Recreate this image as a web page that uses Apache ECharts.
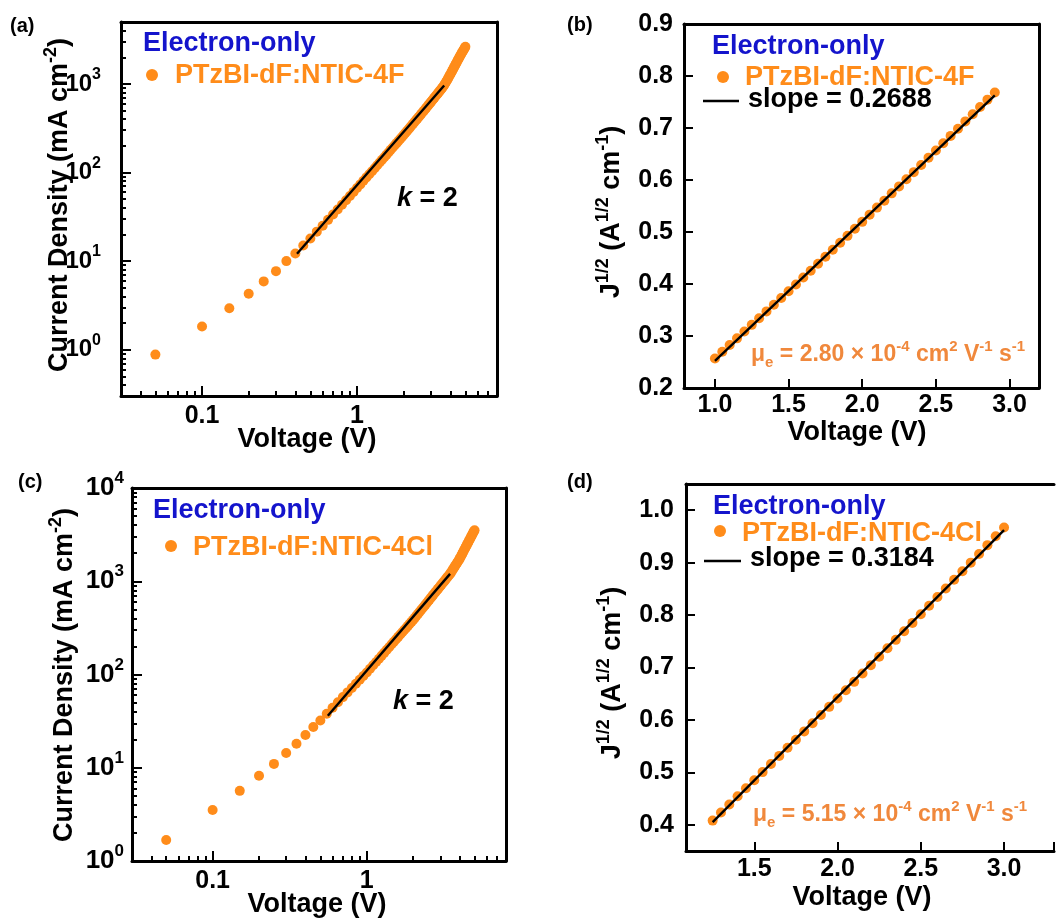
<!DOCTYPE html>
<html>
<head>
<meta charset="utf-8">
<script src="https://cdn.jsdelivr.net/npm/echarts@6/dist/echarts.min.js"></script>
<style>
html,body{margin:0;padding:0;background:#fff;overflow:hidden;}
.p{position:absolute;height:460px;}
</style>
</head>
<body>
<div id="pa" class="p" style="left:0;top:0;width:528px"></div>
<div id="pb" class="p" style="left:528px;top:0;width:529px"></div>
<div id="pc" class="p" style="left:0;top:460px;width:528px"></div>
<div id="pd" class="p" style="left:528px;top:460px;width:529px"></div>
<script>
// ---------- data ----------
const voltLog = [
0.05,0.1,0.15,0.2,0.25,0.3,0.35,0.4,0.45,0.5,
0.55,0.6,0.65,0.7,0.75,0.8,0.85,0.9,0.95,1.0,
1.05,1.1,1.15,1.2,1.25,1.3,1.35,1.4,1.45,1.5,
1.55,1.6,1.65,1.7,1.75,1.8,1.85,1.9,1.95,2.0,
2.05,2.1,2.15,2.2,2.25,2.3,2.35,2.4,2.45,2.5,
2.55,2.6,2.65,2.7,2.75,2.8,2.85,2.9,2.95,3.0,
3.05,3.1,3.15,3.2,3.25,3.3,3.35,3.4,3.45,3.5,
3.55,3.6,3.65,3.7,3.75,3.8,3.85,3.9,3.95,4.0,
4.05,4.1,4.15,4.2,4.25,4.3,4.35,4.4,4.45,4.5,
4.55,4.6,4.65,4.7,4.75,4.8,4.85,4.9,4.95,5.0];

const jA = [
0.88,1.83,2.94,4.28,5.9,7.7,10.0,12.2,15.0,18.0,
21.5,25.1,29.2,33.5,38.3,43.3,48.6,54.2,60.4,67.0,
73.4,80.6,88.1,95.4,103.5,111.9,120.7,129.8,139.3,149.0,
159.1,169.6,180.3,191.4,202.9,214.6,226.7,239.1,251.9,265.0,
279.0,293.4,308.2,323.4,339.0,355.0,371.4,388.2,405.4,423.0,
441.0,459.5,478.3,497.6,517.3,537.9,559.1,580.7,602.8,625.3,
648.4,671.9,695.8,720.3,745.3,770.7,796.7,823.2,850.1,877.6,
905.6,933.1,969.9,1008.9,1050.4,1093.7,1138.9,1186.1,1235.4,1286.1,
1339.1,1393.6,1450.5,1509.0,1568.9,1630.6,1694.0,1759.1,1826.0,1894.7,
1964.0,2033.9,2104.4,2175.3,2246.6,2318.3,2391.5,2466.2,2542.5,2620.3];

const jC = [
1.68,3.53,5.65,8.19,11.0,14.4,18.1,22.4,27.3,32.1,
37.9,44.0,50.4,57.2,64.3,71.8,79.6,87.8,96.2,105.0,
115.1,125.5,136.4,147.8,159.5,171.7,184.3,197.3,210.7,224.5,
238.7,253.3,268.3,283.7,299.6,315.8,332.5,349.6,367.0,385.0,
405.1,425.8,447.0,468.7,490.9,513.7,536.9,560.8,585.2,610.1,
635.5,661.4,688.0,715.1,742.6,770.7,799.3,828.6,858.3,888.6,
919.4,950.8,982.7,1015.2,1048.3,1081.7,1115.9,1150.4,1185.6,1221.5,
1273,1320,1369,1418,1469,1520,1572,1626,1680,1737,
1807,1879,1953,2029,2107,2187,2269,2353,2439,2527,
2617,2711,2806,2903,3002,3104,3208,3314,3424,3530];

const voltB = [1.0,1.05,1.1,1.15,1.2,1.25,1.3,1.35,1.4,1.45,1.5,1.55,1.6,1.65,1.7,1.75,1.8,1.85,1.9,1.95,
2.0,2.05,2.1,2.15,2.2,2.25,2.3,2.35,2.4,2.45,2.5,2.55,2.6,2.65,2.7,2.75,2.8,2.85,2.9];
const sqrtJB = [0.2567,0.2696,0.2826,0.2955,0.3085,0.3214,0.3343,0.3473,0.3602,0.3732,
0.3861,0.3990,0.4125,0.4254,0.4389,0.4523,0.4657,0.4792,0.4926,0.5061,
0.5195,0.5334,0.5469,0.5603,0.5743,0.5877,0.6016,0.6151,0.6290,0.6430,
0.6569,0.6708,0.6848,0.6987,0.7127,0.7266,0.7405,0.7545,0.7684];

const voltD = [1.25,1.3,1.35,1.4,1.45,1.5,1.55,1.6,1.65,1.7,1.75,1.8,1.85,1.9,1.95,2.0,
2.05,2.1,2.15,2.2,2.25,2.3,2.35,2.4,2.45,2.5,2.55,2.6,2.65,2.7,2.75,2.8,2.85,2.9,2.95,3.0];
const sqrtJD = [0.4080,0.4234,0.4388,0.4543,0.4697,0.4851,0.5005,0.5159,0.5314,0.5468,
0.5622,0.5781,0.5935,0.6095,0.6249,0.6408,0.6567,0.6726,0.6886,0.7045,
0.7204,0.7368,0.7527,0.7692,0.7851,0.8015,0.8179,0.8343,0.8508,0.8672,
0.8836,0.9000,0.9164,0.9334,0.9503,0.9672];

// fit lines (end points)
const fitAx = [0.41, 3.65],  fitAy = [12.1, 960];
const fitCx = [0.559, 3.47], fitCy = [36.1, 1200];
const fitBx = [1.0, 2.9],    fitBy = [0.2522, 0.7629];
const fitDx = [1.25, 3.0],   fitDy = [0.405, 0.9622];

// text
const nameF = 'PTzBI-dF:NTIC-4F';
const nameCl = 'PTzBI-dF:NTIC-4Cl';
const slopeB = 'slope = 0.2688';
const slopeD = 'slope = 0.3184';
const muB = '{n|μ}{sub|e}{n| = 2.80 × 10}{sup|-4}{n| cm}{sup|2}{n| V}{sup|-1}{n| s}{sup|-1}';
const muD = '{n|μ}{sub|e}{n| = 5.15 × 10}{sup|-4}{n| cm}{sup|2}{n| V}{sup|-1}{n| s}{sup|-1}';
const yTitleJ = '{n|Current Density (mA cm}{s|-2}{n|)}';
const yTitleS = '{n|J}{s|1/2}{n| (A}{s|1/2}{n| cm}{s|-1}{n|)}';
const xTitle = 'Voltage (V)';

// ---------- styling ----------
const FONT = '"Liberation Sans", Arial, Helvetica, sans-serif';
const ORANGE = '#FF8C1A';
const MU = '#F0883C';
const BLUE = '#1414CC';

function pairs(xs, ys){ return xs.map((x,i)=>[x, ys[i]]); }
function isPow10(v){ const l = Math.log10(v); return Math.abs(l - Math.round(l)) < 1e-6; }
function isMult(v, step){ const q = v/step; return Math.abs(q - Math.round(q)) < 1e-6; }

function logX(){
  return {type:'log', min:0.03, max:8, logBase:10,
    axisLine:{show:true, lineStyle:{color:'#000', width:3}},
    axisTick:{show:true, inside:true, length:10, lineStyle:{color:'#000', width:2}},
    minorTick:{show:true, splitNumber:9, length:5, lineStyle:{color:'#000', width:2}},
    splitLine:{show:false}, minorSplitLine:{show:false},
    axisLabel:{margin:8, color:'#000', fontFamily:FONT, fontWeight:'bold', fontSize:25,
      formatter:function(v){ if(!isPow10(v)) return ''; const n=Math.round(Math.log10(v)); return n===-1?'0.1':(n===0?'1':''); }}};
}
function logY(min, max, fs, sfs, margin){
  return {type:'log', min:min, max:max, logBase:10,
    axisLine:{show:true, lineStyle:{color:'#000', width:3}},
    axisTick:{show:true, inside:true, length:10, lineStyle:{color:'#000', width:2}},
    minorTick:{show:true, splitNumber:9, length:5, lineStyle:{color:'#000', width:2}},
    splitLine:{show:false}, minorSplitLine:{show:false},
    axisLabel:{margin:margin, color:'#000',
      formatter:function(v){ if(!isPow10(v)) return ''; return '{b|10}{s|'+Math.round(Math.log10(v))+'}'; },
      rich:{
        b:{fontFamily:FONT, fontWeight:'bold', fontSize:fs, lineHeight:fs+10, color:'#000'},
        s:{fontFamily:FONT, fontWeight:'bold', fontSize:sfs, verticalAlign:'top', color:'#000'}
      }}};
}
function linA(min, max, step, margin){
  return {type:'value', min:min, max:max,
    axisLine:{show:true, lineStyle:{color:'#000', width:3}},
    axisTick:{show:true, inside:true, length:9, lineStyle:{color:'#000', width:2}},
    splitLine:{show:false},
    axisLabel:{color:'#000', fontFamily:FONT, fontWeight:'bold', fontSize:25, margin:margin,
      formatter:function(v){ return isMult(v, step) ? v.toFixed(1) : ''; }}};
}
function frame(type, min, max, pos){
  return {type:type, min:min, max:max, position:pos,
    axisLine:{show:true, onZero:false, lineStyle:{color:'#000', width:3}},
    axisTick:{show:false}, minorTick:{show:false}, axisLabel:{show:false},
    splitLine:{show:false}, minorSplitLine:{show:false}};
}

function scatter(name, data){
  return {type:'scatter', name:name, data:data, symbolSize:10,
    itemStyle:{color:ORANGE, opacity:1}, z:2, silent:true};
}
function fit(name, data){
  return {type:'line', name:name, data:data, symbol:'none', showSymbol:false,
    lineStyle:{color:'#000', width:2.4}, z:3, silent:true};
}

function txt(x, y, text, opts){
  return {type:'text', x:x, y:y,
    style:Object.assign({text:text, fontFamily:FONT, fontWeight:'bold', fontSize:27, fill:'#000', align:'left', verticalAlign:'middle'}, opts||{})};
}
function dot(cx, cy){ return {type:'circle', shape:{cx:cx, cy:cy, r:6}, style:{fill:ORANGE}}; }
function seg(x1, x2, y){ return {type:'line', shape:{x1:x1, y1:y, x2:x2, y2:y}, style:{stroke:'#000', lineWidth:2.4}}; }

const titleRich = {
  n:{fontFamily:FONT, fontWeight:'bold', fontSize:27, lineHeight:36, fill:'#000'},
  s:{fontFamily:FONT, fontWeight:'bold', fontSize:18, verticalAlign:'top', fill:'#000'}
};
const muRich = {
  n:{fontFamily:FONT, fontWeight:'bold', fontSize:23, lineHeight:31, fill:MU},
  sup:{fontFamily:FONT, fontWeight:'bold', fontSize:15, verticalAlign:'top', fill:MU},
  sub:{fontFamily:FONT, fontWeight:'bold', fontSize:15, verticalAlign:'bottom', fill:MU}
};
const kRich = {
  i:{fontFamily:FONT, fontWeight:'bold', fontStyle:'italic', fontSize:27, fill:'#000'},
  n:{fontFamily:FONT, fontWeight:'bold', fontSize:27, fill:'#000'}
};
function rot(x, y, text){
  return {type:'text', x:x, y:y, rotation:Math.PI/2,
    style:{text:text, rich:titleRich, align:'center', verticalAlign:'middle'}};
}
function rich(x, y, text, r){
  return {type:'text', x:x, y:y, style:{text:text, rich:r, align:'left', verticalAlign:'middle'}};
}

function draw(id, opt){
  const ch = echarts.init(document.getElementById(id));
  opt.animation = false;
  ch.setOption(opt);
}

// (a)
draw('pa', {
  grid:{left:121, top:22, width:376, height:374},
  xAxis:[logX(), frame('log', 0.03, 8, 'top')],
  yAxis:[logY(0.3, 5000, 24, 16, 20), frame('log', 0.3, 5000, 'right')],
  series:[scatter(nameF, pairs(voltLog, jA)), fit('fitA', pairs(fitAx, fitAy))],
  graphic:[
    txt(10, 26, '(a)', {fontSize:20}),
    txt(143, 44, 'Electron-only', {fill:BLUE}),
    dot(152, 75), txt(175, 76, nameF, {fill:ORANGE}),
    rich(397, 199, '{i|k}{n| = 2}', kRich),
    rot(60, 205, yTitleJ),
    txt(307, 440, xTitle, {align:'center'})
  ]
});

// (b)
draw('pb', {
  grid:{left:156, top:24, width:355, height:364},
  xAxis:[linA(0.79, 3.2, 0.5, 5), frame('value', 0.79, 3.2, 'top')],
  yAxis:[linA(0.2, 0.9, 0.1, 11), frame('value', 0.2, 0.9, 'right')],
  series:[scatter(nameF, pairs(voltB, sqrtJB)), fit(slopeB, pairs(fitBx, fitBy))],
  graphic:[
    txt(39, 25, '(b)', {fontSize:20}),
    txt(184, 47, 'Electron-only', {fill:BLUE}),
    dot(195, 77), txt(217, 78, nameF, {fill:ORANGE}),
    seg(175, 211, 101), txt(220, 100, slopeB),
    rich(223, 355, muB, muRich),
    rot(84, 212, yTitleS),
    txt(329, 433, xTitle, {align:'center'})
  ]
});

// (c)
draw('pc', {
  grid:{left:132, top:28, width:374, height:373},
  xAxis:[logX(), frame('log', 0.03, 8, 'top')],
  yAxis:[logY(1, 10000, 26, 17, 8), frame('log', 1, 10000, 'right')],
  series:[scatter(nameCl, pairs(voltLog, jC)), fit('fitC', pairs(fitCx, fitCy))],
  graphic:[
    txt(18, 22, '(c)', {fontSize:20}),
    txt(153, 51, 'Electron-only', {fill:BLUE}),
    dot(171, 86), txt(193, 88, nameCl, {fill:ORANGE}),
    rich(393, 242, '{i|k}{n| = 2}', kRich),
    rot(65, 215, yTitleJ),
    txt(317, 445, xTitle, {align:'center'})
  ]
});

// (d)
draw('pd', {
  grid:{left:158, top:24, width:376, height:367},
  xAxis:[linA(1.09, 3.3, 0.5, 6), frame('value', 1.09, 3.3, 'top')],
  yAxis:[linA(0.35, 1.05, 0.1, 12)],
  series:[scatter(nameCl, pairs(voltD, sqrtJD)), fit(slopeD, pairs(fitDx, fitDy))],
  graphic:[
    txt(39, 22, '(d)', {fontSize:20}),
    txt(185, 47, 'Electron-only', {fill:BLUE}),
    dot(192, 71), txt(214, 74, nameCl, {fill:ORANGE}),
    seg(176, 213, 101), txt(222, 99, slopeD),
    rich(225, 355, muD, muRich),
    rot(85, 213, yTitleS),
    txt(334, 438, xTitle, {align:'center'})
  ]
});
</script>
</body>
</html>
